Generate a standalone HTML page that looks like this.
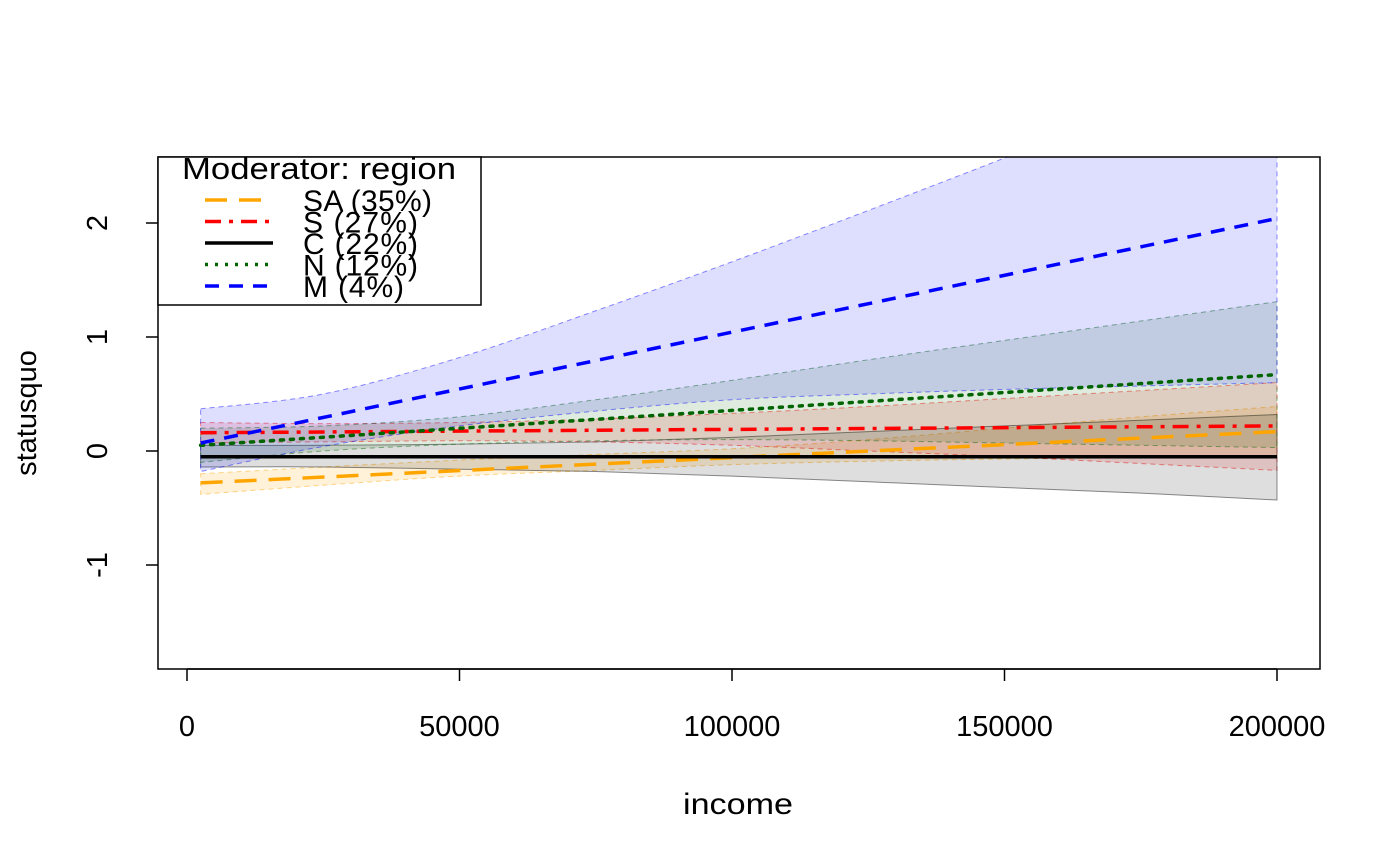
<!DOCTYPE html>
<html><head><meta charset="utf-8"><style>
body{margin:0;background:#fff}
svg{display:block;font-family:"Liberation Sans","DejaVu Sans",sans-serif}
</style></head><body>
<svg id="chart" width="1400" height="866">
<defs><clipPath id="clip"><rect x="158" y="157" width="1162" height="512"/></clipPath></defs>
<g id="bands" clip-path="url(#clip)"></g>
<g id="lines" clip-path="url(#clip)"></g>
<rect x="158" y="157" width="1162" height="512" fill="none" stroke="#000" stroke-width="1.5"/>
<g id="axes"></g>
<text x="738" y="814" font-size="30" text-anchor="middle" textLength="110" lengthAdjust="spacingAndGlyphs">income</text>
<text transform="translate(36,413) rotate(-90)" font-size="29" text-anchor="middle">statusquo</text>
<g id="legend">
<rect x="158" y="157" width="323" height="148" fill="#fff" stroke="#000" stroke-width="1.5"/>
<text x="182" y="179" font-size="31" textLength="274" lengthAdjust="spacingAndGlyphs">Moderator: region</text>
</g>
</svg>
<script>
const xs = [2500,25000,50000,75000,100000,125000,150000,175000,200000];
const names = ["SA (35%)","S (27%)","C (22%)","N (12%)","M (4%)"];
const colors = ["orange","red","black","darkgreen","blue"];
const dashes = ["22 12","16 8 4 8","","3 7","14 10"];
const lineSA = [-0.28,0.17];
const lineS = [0.16,0.22];
const lineC = [-0.05,-0.05];
const lineN = [0.05,0.67];
const lineM = [0.07,2.04];
const upSA = [-0.2,-0.14,-0.08,-0.03,0.02,0.1,0.2,0.3,0.39];
const loSA = [-0.38,-0.3,-0.22,-0.17,-0.12,-0.09,-0.07,-0.06,-0.05];
const upS = [0.25,0.24,0.25,0.28,0.33,0.39,0.46,0.53,0.6];
const loS = [0.07,0.08,0.09,0.08,0.05,0.0,-0.05,-0.11,-0.17];
const upC = [0.05,0.05,0.06,0.08,0.12,0.17,0.22,0.27,0.32];
const loC = [-0.14,-0.14,-0.16,-0.18,-0.22,-0.27,-0.32,-0.37,-0.43];
const upN = [0.2,0.22,0.3,0.45,0.62,0.8,0.97,1.14,1.31];
const loN = [-0.1,0.0,0.06,0.09,0.1,0.09,0.07,0.05,0.03];
const upM = [0.37,0.5,0.82,1.23,1.66,2.11,2.57,3.04,3.52];
const loM = [-0.18,0.04,0.22,0.35,0.45,0.5,0.54,0.57,0.6];
const xTicks = [0,50000,100000,150000,200000];
const yTicks = [-1,0,1,2];
const lines=[lineSA,lineS,lineC,lineN,lineM], ups=[upSA,upS,upC,upN,upM], los=[loSA,loS,loC,loN,loM];
const X = v => 187 + v*1090/200000;
const Y = v => 451 - v*114;
const NS="http://www.w3.org/2000/svg";
function mk(tag,attrs,parent){const e=document.createElementNS(NS,tag);for(const k in attrs)e.setAttribute(k,attrs[k]);parent.appendChild(e);return e;}
function smooth(P){let d='';for(let i=0;i<P.length-1;i++){const p0=P[Math.max(0,i-1)],p1=P[i],p2=P[i+1],p3=P[Math.min(P.length-1,i+2)];
 const c1=[p1[0]+(p2[0]-p0[0])/6,p1[1]+(p2[1]-p0[1])/6],c2=[p2[0]-(p3[0]-p1[0])/6,p2[1]-(p3[1]-p1[1])/6];
 d+=` C${c1[0]},${c1[1]} ${c2[0]},${c2[1]} ${p2[0]},${p2[1]}`;}return d;}
const bands=document.getElementById('bands'), lg=document.getElementById('lines'), ax=document.getElementById('axes'), leg=document.getElementById('legend');
const fills=["rgba(255,165,0,0.15)","rgba(255,0,0,0.13)","rgba(0,0,0,0.13)","rgba(0,100,0,0.13)","rgba(0,0,255,0.13)"];
for(let i=0;i<5;i++){
  const U=xs.map((x,j)=>[X(x),Y(ups[i][j])]);
  const L=xs.map((x,j)=>[X(x),Y(los[i][j])]).reverse();
  const d=`M${U[0][0]},${U[0][1]}`+smooth(U)+` L${L[0][0]},${L[0][1]}`+smooth(L)+'Z';
  const p=mk('path',{d:d,fill:fills[i],stroke:colors[i],'stroke-opacity':0.45,'stroke-width':1,'stroke-dasharray':dashes[i]?'5 4':''},bands);
  
  
}
for(let i=0;i<5;i++){
  const l=mk('line',{x1:X(xs[0]),y1:Y(lines[i][0]),x2:X(xs[xs.length-1]),y2:Y(lines[i][1]),stroke:colors[i],'stroke-width':3.5,'stroke-dasharray':dashes[i],'stroke-linecap':i==3?'round':'butt'},lg);
  
  
  const ll=mk('line',{x1:205,y1:200+i*21.5,x2:273,y2:200+i*21.5,stroke:colors[i],'stroke-width':3.5,'stroke-dasharray':dashes[i]},leg);
  
  
  const t=mk('text',{x:303,y:211+i*21.5,'font-size':30,textLength:i==0?129:(i==4?101:115)},leg);t.textContent=names[i];
  
  
}
mk('line',{x1:X(0),y1:669,x2:X(200000),y2:669,stroke:'#000','stroke-width':1.5},ax);
xTicks.forEach(v=>{
  const t=mk('line',{x1:X(v),y1:669,x2:X(v),y2:681,stroke:'#000','stroke-width':1.5},ax);
  
  
  const tx=mk('text',{x:X(v),y:736,'font-size':29,'text-anchor':'middle'},ax);tx.textContent=v;
  
  
});
yTicks.forEach(v=>{
  const t=mk('line',{x1:146,y1:Y(v),x2:158,y2:Y(v),stroke:'#000','stroke-width':1.5},ax);
  
  
  const tx=mk('text',{transform:`translate(107,${Y(v)}) rotate(-90)`,'font-size':29,'text-anchor':'middle'},ax);tx.textContent=v;
  
  
});
</script>
</body></html>
